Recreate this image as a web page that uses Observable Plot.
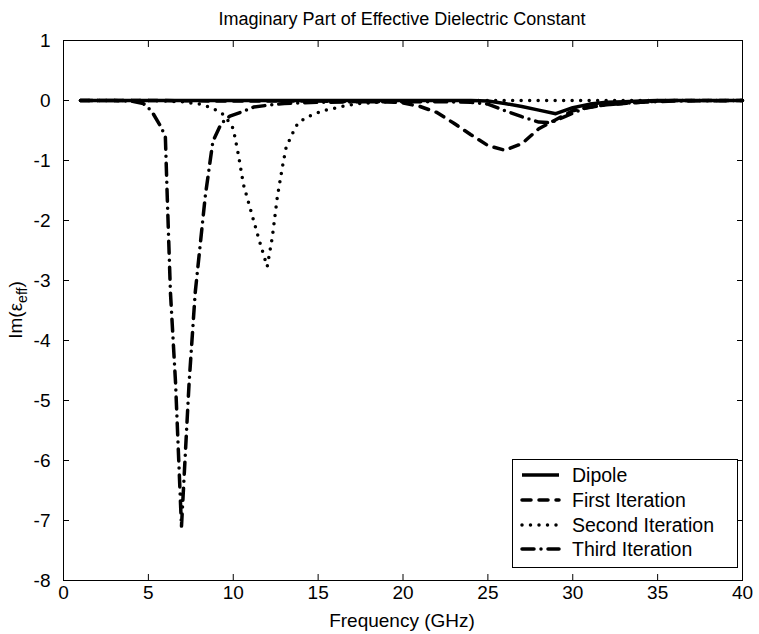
<!DOCTYPE html>
<html><head><meta charset="utf-8">
<script src="https://cdn.jsdelivr.net/npm/d3@7"></script>
<script src="https://cdn.jsdelivr.net/npm/@observablehq/plot@0.6"></script>
<style>
body{margin:0;background:#fff;font-family:"Liberation Sans",Arial,sans-serif;}
#title{height:28px;width:759px;position:relative;font-size:18px;color:#000;}
#title span{position:absolute;left:402px;transform:translateX(-50%);top:9px;white-space:nowrap;}
</style></head><body>
<div id="title"><span>Imaginary Part of Effective Dielectric Constant</span></div>
<div id="chart"></div>
<script>
// ---- data ----
const xTicks = [0, 5, 10, 15, 20, 25, 30, 35, 40];
const yTicks = [1, 0, -1, -2, -3, -4, -5, -6, -7, -8];
const seriesNames = ["Dipole", "First Iteration", "Second Iteration", "Third Iteration"];

const dipoleF = [1, 5, 10, 15, 20, 24, 25, 26, 27, 28, 29, 30, 31, 32, 33, 34, 35, 40];
const dipoleV = [0, 0, 0, 0, 0, 0, -0.01, -0.05, -0.1, -0.16, -0.22, -0.12, -0.06, -0.03, -0.02, -0.01, 0, 0];

const firstF = [1, 5, 10, 15, 18, 19, 20, 21, 22, 23, 24, 25, 26, 27, 28, 29, 30, 31, 32, 33, 34, 35, 36, 40];
const firstV = [0, 0, -0.01, -0.01, -0.02, -0.02, -0.04, -0.1, -0.2, -0.38, -0.57, -0.75, -0.83, -0.72, -0.47, -0.32, -0.17, -0.11, -0.07, -0.05, -0.03, -0.01, 0, 0];

const secondF = [1, 5, 7, 8, 8.5, 9, 9.5, 10, 10.3, 10.6, 11, 11.5, 12, 12.3, 12.6, 12.9, 13.1, 13.4, 13.8, 14.3, 15.3, 16.4, 17.4, 18.5, 20, 22, 25, 30, 35, 40];
const secondV = [0, 0, -0.02, -0.06, -0.1, -0.16, -0.25, -0.47, -0.9, -1.4, -1.8, -2.3, -2.77, -2.28, -1.6, -1.1, -0.8, -0.6, -0.38, -0.28, -0.17, -0.1, -0.05, -0.03, -0.02, -0.01, 0, 0, 0, 0];

const thirdF = [1, 3, 4, 4.7, 5.2, 5.7, 6, 6.1, 6.3, 6.6, 6.95, 7.4, 7.76, 8.35, 8.8, 9.3, 9.8, 10.5, 11.2, 12, 13, 15, 18, 20, 22, 24, 25, 26, 27, 28, 28.7, 29.6, 30.7, 32, 34, 36, 40];
const thirdV = [0, 0, -0.01, -0.05, -0.18, -0.42, -0.6, -1.5, -3.2, -4.7, -7.1, -4.7, -3.2, -1.6, -0.68, -0.38, -0.26, -0.19, -0.11, -0.08, -0.05, -0.03, -0.02, -0.02, -0.02, -0.03, -0.06, -0.17, -0.27, -0.36, -0.37, -0.26, -0.13, -0.07, -0.03, -0.01, 0];

const toRows = (F, V) => F.map((f, i) => ({f, v: V[i]}));
const dipole = toRows(dipoleF, dipoleV);
const first = toRows(firstF, firstV);
const second = toRows(secondF, secondV);
const third = toRows(thirdF, thirdV);

// ---- styles ----
const FONT = '"Liberation Sans", Arial, sans-serif';
const FS = 19;
const SW = 3.5;
const styles = [
  {strokeDasharray: null, strokeLinecap: "butt"},
  {strokeDasharray: "9,8", strokeLinecap: "round"},
  {strokeDasharray: "0,8.5", strokeLinecap: "round"},
  {strokeDasharray: "12,7,0,7", strokeLinecap: "round"}
];

const W = 759, H = 606, TOP = 28;
const chart = Plot.plot({
  width: W, height: H,
  marginLeft: 63, marginRight: 17, marginTop: 12, marginBottom: 54,
  style: {fontFamily: FONT, fontSize: FS + "px", background: "white", color: "black", overflow: "visible"},
  x: {domain: [0, 40]},
  y: {domain: [-8, 1]},
  marks: [
    Plot.axisX({ticks: xTicks, tickSize: -6, tickPadding: 11, tickFormat: d => String(d), label: null, fontSize: FS}),
    Plot.axisX({anchor: "top", ticks: xTicks, tickSize: -6, tickFormat: () => "", label: null}),
    Plot.axisY({ticks: yTicks, tickSize: -6, tickPadding: 19, tickFormat: d => String(d), label: null, fontSize: FS}),
    Plot.axisY({anchor: "right", ticks: yTicks, tickSize: -6, tickFormat: () => "", label: null}),
    Plot.line(dipole, {x: "f", y: "v", stroke: "black", strokeWidth: SW, ...styles[0]}),
    Plot.line(first, {x: "f", y: "v", stroke: "black", strokeWidth: SW, ...styles[1]}),
    Plot.line(second, {x: "f", y: "v", stroke: "black", strokeWidth: SW, ...styles[2]}),
    Plot.line(third, {x: "f", y: "v", stroke: "black", strokeWidth: SW, ...styles[3]}),
    Plot.frame({stroke: "black", strokeWidth: 1})
  ]
});
document.getElementById("chart").appendChild(chart);

const svg = d3.select(chart);
// x label
svg.append("text")
  .attr("x", 402).attr("y", 620 - TOP).attr("dy", "0.35em")
  .attr("text-anchor", "middle").attr("font-size", FS).attr("font-family", FONT)
  .attr("fill", "black").text("Frequency (GHz)");
// y label with subscript
const yl = svg.append("text")
  .attr("transform", `translate(22,${310 - TOP}) rotate(-90)`)
  .attr("text-anchor", "middle").attr("font-size", FS).attr("font-family", FONT).attr("fill", "black");
yl.append("tspan").text("Im(ε");
yl.append("tspan").attr("font-size", 14).attr("dy", 5).text("eff");
yl.append("tspan").attr("dy", -5).text(")");

// legend
const lg = svg.append("g");
lg.append("rect").attr("x", 512.5).attr("y", 459.5 - TOP).attr("width", 225).attr("height", 108)
  .attr("fill", "white").attr("stroke", "black").attr("stroke-width", 1);
const rowY = [475, 500, 525, 549];
seriesNames.forEach((name, i) => {
  const y = rowY[i] - TOP;
  lg.append("line").attr("x1", 522).attr("x2", 559).attr("y1", y).attr("y2", y)
    .attr("stroke", "black").attr("stroke-width", SW)
    .attr("stroke-dasharray", styles[i].strokeDasharray)
    .attr("stroke-linecap", styles[i].strokeLinecap);
  lg.append("text").attr("x", 572).attr("y", y).attr("dy", "0.35em")
    .attr("text-anchor", "start")
    .attr("font-size", 19.5).attr("font-family", FONT).attr("fill", "black").text(name);
});
</script>
</body></html>
